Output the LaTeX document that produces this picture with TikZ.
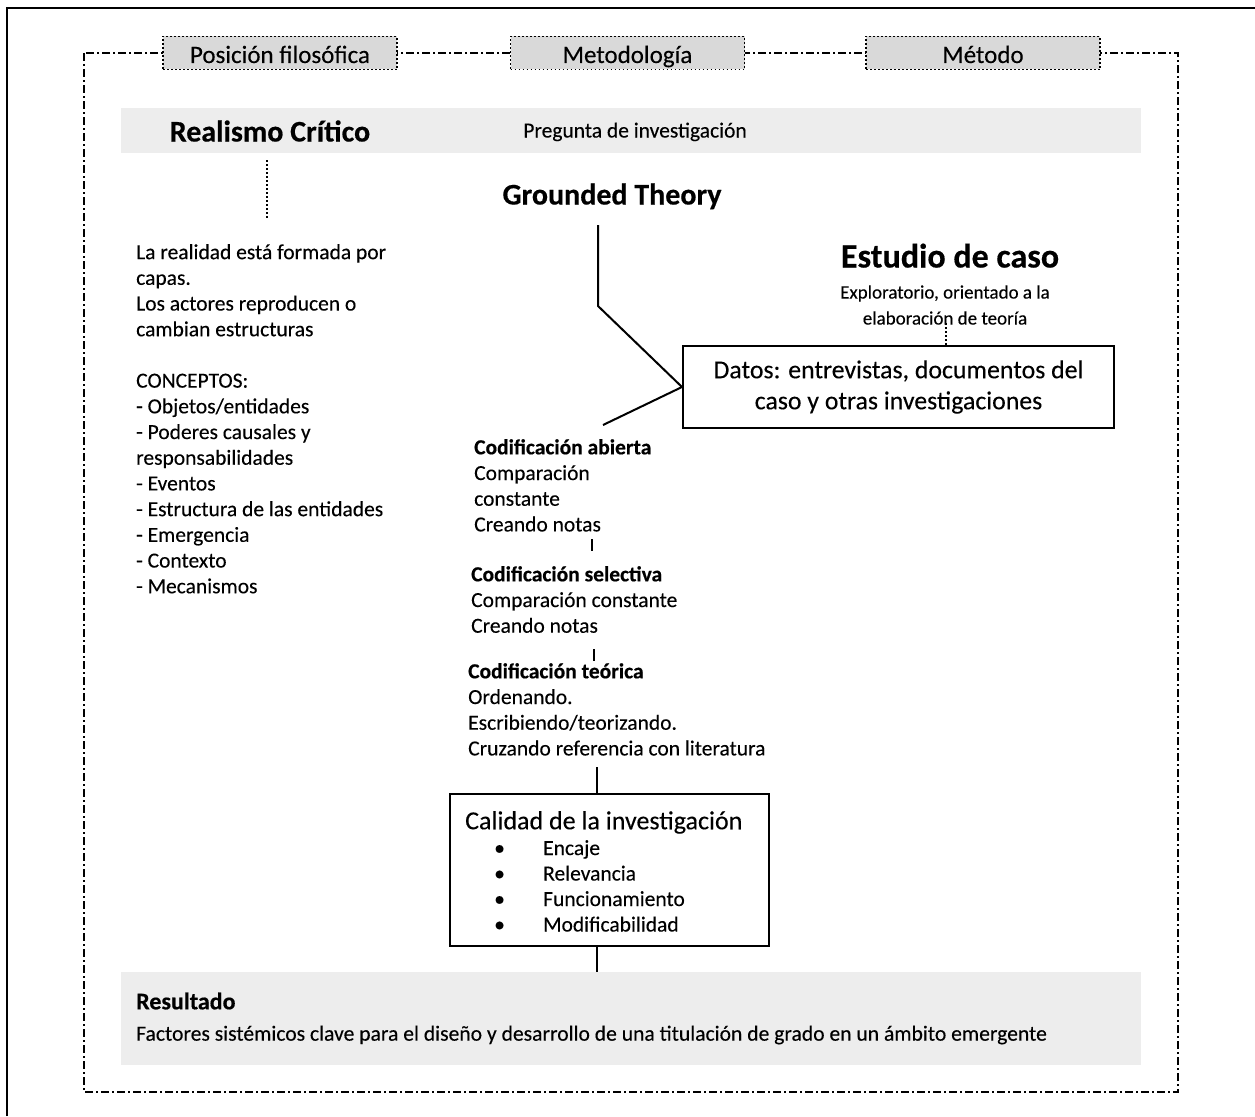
\documentclass[tikz,border=0pt]{standalone}
\usepackage{fontspec}
\setmainfont{Carlito}[UprightFeatures={FakeBold=0.2}, BoldFeatures={FakeBold=0.4}]
\definecolor{labelgray}{HTML}{D9D9D9}
\definecolor{bandgray}{HTML}{EDEDED}
\newcommand{\fs}[2]{\fontsize{#1}{#2}\selectfont}
\begin{document}
\begin{tikzpicture}[x=1pt,y=-1pt,
  outerline/.style={line width=2.4pt},
  dashdotline/.style={line width=1.6pt, dash pattern=on 8pt off 3pt on 2pt off 3pt},
  dotline/.style={line width=1.8pt, dash pattern=on 1.6pt off 2.4pt},
  headlabel/.style={fill=labelgray, draw, line width=1.8pt, dash pattern=on 1.6pt off 2.4pt,
    minimum width=234pt, minimum height=33pt, inner sep=0pt, text height=24pt, text depth=4pt,
    font=\fs{25}{29}},
  band/.style={fill=bandgray, draw=none, inner sep=0pt},
  conn/.style={line width=2pt},
  solidbox/.style={draw, line width=2pt, inner sep=0pt},
  plain/.style={inner sep=0pt, align=left, anchor=north west, font=\fs{21.5}{25.7}},
  bigtitle/.style={inner sep=0pt, text height=23pt, text depth=4pt, font=\fs{30}{34}\bfseries},
]
\useasboundingbox (0,0) rectangle (1255,1116);

% outer solid frame
\draw[outerline] (7,1116) -- (7,8) -- (1255,8);

% dash-dot enclosure
\draw[dashdotline] (84,53) rectangle (1178,1092);

% column headings
\node[headlabel] (hpos) at (280,53) {Posición filosófica};
\node[headlabel] (hmet) at (627.5,53) {Metodología};
\node[headlabel] (hmeth) at (983,53) {Método};

% top band
\node[band, minimum width=1020pt, minimum height=45pt, anchor=north west] (topband) at (121,108) {};
\node[bigtitle] (realismo) at (270,132) {Realismo Crítico};
\node[inner sep=0pt, text height=15pt, text depth=4pt, font=\fs{21.5}{25}] (pregunta) at (635,132) {Pregunta de investigación};

% philosophical position
\coordinate (realfoot) at (267,218);
\draw[dotline] (realfoot |- 0,160) -- (realfoot);
\node[plain] (realtxt) at (136,244) {La realidad está formada por\\capas.\\Los actores reproducen o\\cambian estructuras\\[25.7pt]CONCEPTOS:\\- Objetos/entidades\\- Poderes causales y\\responsabilidades\\- Eventos\\- Estructura de las entidades\\- Emergencia\\- Contexto\\- Mecanismos};

% grounded theory branch
\node[bigtitle] (gt) at (612,195) {Grounded Theory};
\coordinate (gttop) at (598,225);
\coordinate (gtbend) at (598,306);
\coordinate (gtend) at (603,425);

% case study
\node[bigtitle, font=\fs{34}{38}\bfseries] (caso) at (950,258) {Estudio de caso};
\node[inner sep=0pt, align=center, font=\fs{19}{26}] (casotxt) at (945,305) {Exploratorio, orientado a la\\elaboración de teoría};
\node[solidbox, minimum width=431pt, minimum height=82pt, anchor=north west, align=center, font=\fs{25.8}{31}] (datos) at (682,345) {\rule{0pt}{4pt}Datos: entrevistas, documentos del\\caso y otras investigaciones};
\coordinate (casofoot) at (946,323);
\draw[dotline] (casofoot) -- (casofoot |- datos.north);

\draw[conn] (gttop) -- (gtbend) -- (datos.west) -- (gtend);

% coding stages
\node[plain] (abierta) at (474,439) {\textbf{Codificación abierta}\\Comparación\\constante\\Creando notas};
\node[plain] (selectiva) at (471,566) {\textbf{Codificación selectiva}\\Comparación constante\\Creando notas};
\node[plain] (teorica) at (468,663) {\textbf{Codificación teórica}\\Ordenando.\\Escribiendo/teorizando.\\Cruzando referencia con literatura};
\coordinate (t1a) at (592,539);
\coordinate (t1b) at (592,551);
\coordinate (t2a) at (594,649);
\coordinate (t2b) at (594,661);
\draw[conn] (t1a) -- (t1b);
\draw[conn] (t2a) -- (t2b);

% research quality
\node[solidbox, minimum width=319pt, minimum height=152pt, anchor=north west] (calidad) at (449,793) {};
\node[inner sep=0pt, anchor=north west, font=\fs{26}{30}] (calidadtit) at (465,811) {Calidad de la investigación};
\node[plain, font=\fs{21.5}{25.5}] (calidaditems) at (494,840) {\makebox[49pt][l]{\textbullet}Encaje\\\makebox[49pt][l]{\textbullet}Relevancia\\\makebox[49pt][l]{\textbullet}Funcionamiento\\\makebox[49pt][l]{\textbullet}Modificabilidad};
\coordinate (tq) at (597,767);
\draw[conn] (tq) -- (tq |- calidad.north);

% result
\node[band, minimum width=1020pt, minimum height=93pt, anchor=north west] (resultado) at (121,972) {};
\node[inner sep=0pt, anchor=west, font=\fs{24}{28}\bfseries] (restit) at (136,1001) {Resultado};
\node[inner sep=0pt, anchor=west, font=\fs{21.6}{25}] (restxt) at (136,1035) {Factores sistémicos clave para el diseño y desarrollo de una titulación de grado en un ámbito emergente};
\draw[conn] (tq |- calidad.south) -- (tq |- resultado.north);
\end{tikzpicture}
\end{document}
